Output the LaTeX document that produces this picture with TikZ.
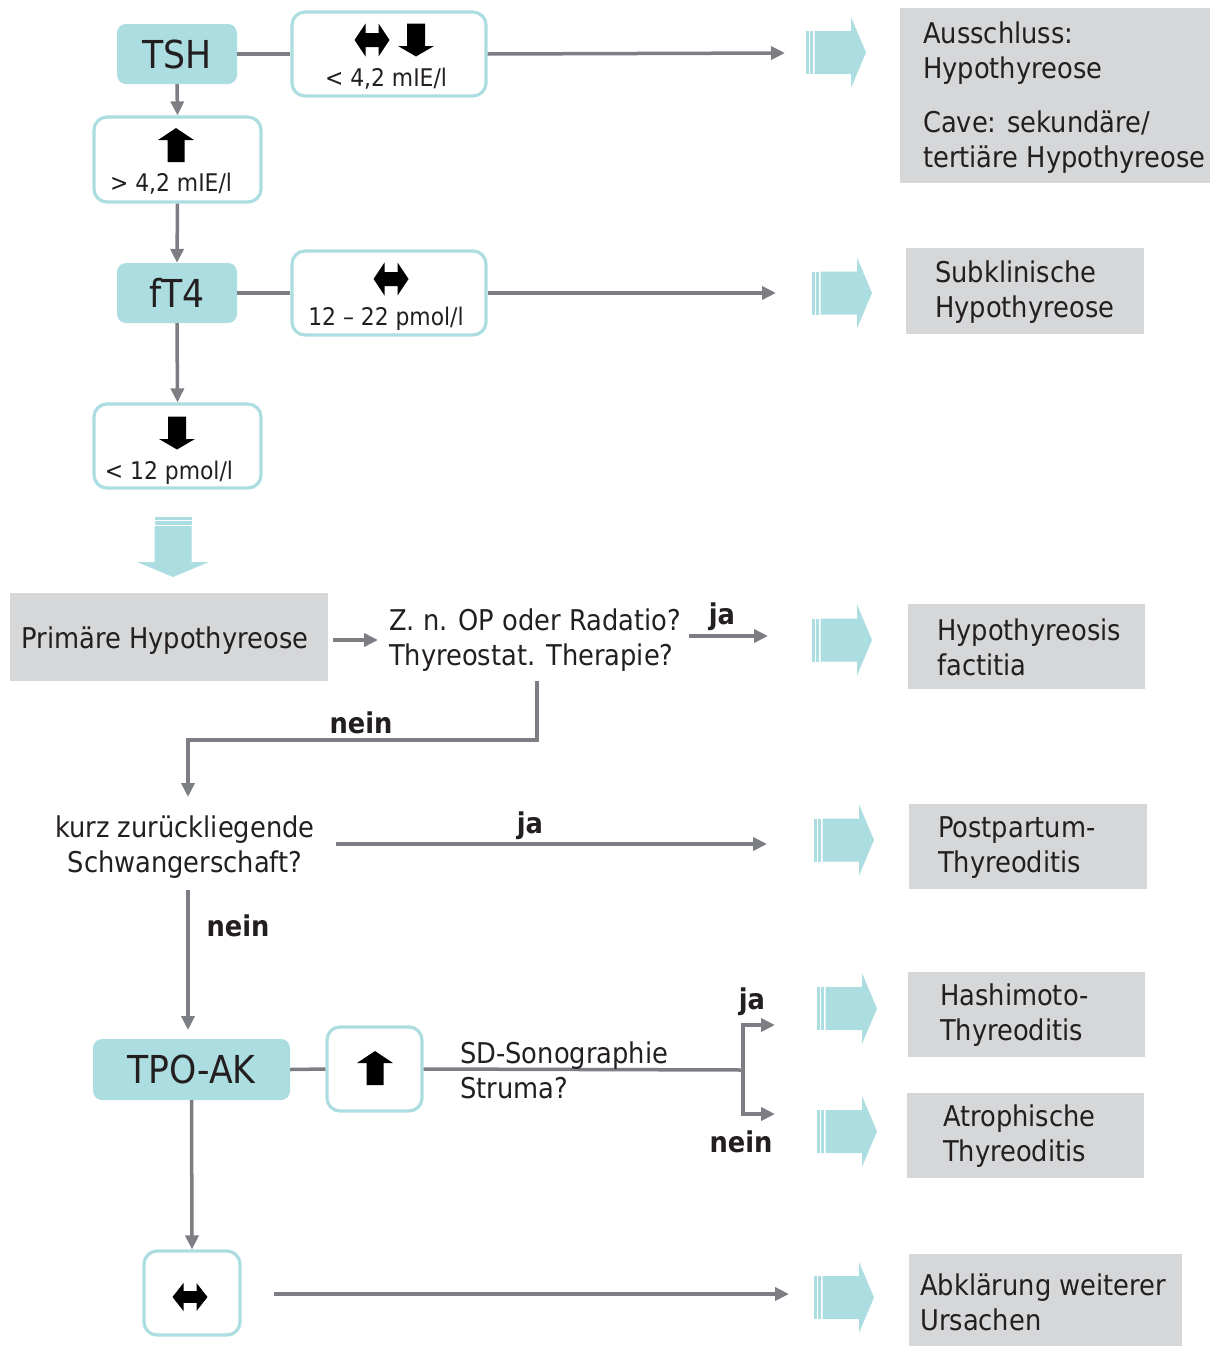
\documentclass[tikz,border=0pt]{standalone}
\usepackage{fontspec}
\setmainfont{DejaVu Sans Condensed}
\usetikzlibrary{arrows.meta}
\definecolor{tealc}{HTML}{ACDDE1}
\definecolor{grayc}{HTML}{D6D7D9}
\definecolor{linec}{HTML}{7D7E83}
\definecolor{txtc}{HTML}{231F20}
\tikzset{
  base/.style={text=txtc, inner sep=0pt},
  hub/.style={base, fill=tealc, rounded corners=9pt, font=\fontsize{38.5}{44}\selectfont},
  valbox/.style={draw=tealc, line width=3.2pt, fill=white, rounded corners=13pt, inner sep=0pt},
  gbox/.style={fill=grayc, inner sep=0pt},
  gtext/.style={base, align=left, anchor=west, yshift=-2.5pt, font=\fontsize{28.6}{35}\selectfont},
  ctext/.style={base, align=center, yshift=-2.5pt, font=\fontsize{28.6}{35}\selectfont},
  small/.style={base, yshift=-1.5pt, font=\fontsize{24.3}{28}\selectfont},
  yesno/.style={base, yshift=-2pt, font=\bfseries\fontsize{28.6}{34}\selectfont},
  conn/.style={draw=linec, line width=3.5pt},
  arr/.style={conn, -{Triangle[length=14pt,width=13pt]}},
  bigarrow/.pic={
    \fill[tealc] (0,-21.5) rectangle (2.5,21.5);
    \fill[tealc] (3.8,-21.5) rectangle (7,21.5);
    \fill[tealc] (8.5,-21.5) -- (45,-21.5) -- (45,-35.5) -- (60,0) -- (45,35.5) -- (45,21.5) -- (8.5,21.5) -- cycle;
  },
  downbig/.pic={
    \fill[tealc] (-18.5,0) rectangle (18.5,2.5);
    \fill[tealc] (-18.5,4) rectangle (18.5,7.5);
    \fill[tealc] (-18.5,9) -- (-18.5,45) -- (-36,45) -- (0,60) -- (36,45) -- (18.5,45) -- (18.5,9) -- cycle;
  },
  uparr/.pic={
    \fill[black] (0,-17) -- (18,-5) -- (8.5,-5) -- (8.5,17) -- (-8.5,17) -- (-8.5,-5) -- (-18,-5) -- cycle;
  },
  downarr/.pic={
    \fill[black] (0,16.5) -- (18,6) -- (9,6) -- (9,-16.5) -- (-9,-16.5) -- (-9,6) -- (-18,6) -- cycle;
  },
  lrarr/.pic={
    \fill[black] (-17.5,0) -- (-6.5,-16.5) -- (-6.5,-7) -- (6.5,-7) -- (6.5,-16.5) -- (17.5,0) -- (6.5,16.5) -- (6.5,7) -- (-6.5,7) -- (-6.5,16.5) -- cycle;
  },
}
\begin{document}
\begin{tikzpicture}[x=1pt,y=-1pt]
\useasboundingbox (0,0) rectangle (1210,1347);

% ---------- TSH row ----------
\node[hub, minimum width=120pt, minimum height=60pt] (tsh) at (177,54) {TSH};
\node[valbox, minimum width=194pt, minimum height=84pt] (b1) at (389,54) {};
\pic at (372,40) {lrarr};
\pic at (416,40) {downarr};
\node[small] (b1t) at (386,77) {< 4,2 mIE/l};
\coordinate (e1) at (785,53);
\draw[conn] (tsh.east) -- (b1.west);
\draw[arr] (b1.east) -- (e1);
\pic at (806,52.5) {bigarrow};
\node[gbox, minimum width=310pt, minimum height=175pt] (g1) at (1055,95.5) {};
\node[gtext] (g1t) at (923,95) {Ausschluss:\\Hypothyreose\\[19pt]Cave: sekundäre/\\tertiäre Hypothyreose};

% ---------- TSH up ----------
\node[valbox, minimum width=167pt, minimum height=85pt] (b2) at (177.5,159.5) {};
\pic at (176,145) {uparr};
\node[small] (b2t) at (171,182) {> 4,2 mIE/l};
\draw[arr] (tsh.south) -- (b2.north);

% ---------- fT4 row ----------
\node[hub, minimum width=120pt, minimum height=60pt] (ft4) at (177,293) {fT4};
\draw[arr] (b2.south) -- (ft4.north);
\node[valbox, minimum width=194pt, minimum height=84pt] (b3) at (389,293) {};
\pic at (391,279) {lrarr};
\node[small] (b3t) at (386,317) {12 – 22 pmol/l};
\coordinate (e3) at (776,293);
\draw[conn] (ft4.east) -- (b3.west);
\draw[arr] (b3.east) -- (e3);
\pic at (812,293) {bigarrow};
\node[gbox, minimum width=238pt, minimum height=86pt] (g2) at (1025,291) {};
\node[gtext] (g2t) at (935,290) {Subklinische\\Hypothyreose};

% ---------- fT4 down ----------
\node[valbox, minimum width=167pt, minimum height=84pt] (b4) at (177.5,446) {};
\pic at (177,433) {downarr};
\node[small] (b4t) at (169,471) {< 12 pmol/l};
\draw[arr] (ft4.south) -- (b4.north);
\pic at (173,517) {downbig};

% ---------- Primaere ----------
\node[gbox, minimum width=318pt, minimum height=88pt] (prim) at (169,637) {};
\node[ctext] (primt) at (165,638) {Primäre Hypothyreose};
\node[gtext] (q1) at (389,638) {Z. n. OP oder Radatio?\\Thyreostat. Therapie?};
\coordinate (p0) at (333,640);
\coordinate (p1) at (378,640);
\draw[arr] (p0) -- (p1);
\coordinate (q1a) at (689,636);
\coordinate (q1b) at (768,636);
\draw[arr] (q1a) -- (q1b);
\node[yesno] (ja1) at (722,615) {ja};
\pic at (812,640) {bigarrow};
\node[gbox, minimum width=237pt, minimum height=85pt] (g3) at (1026.5,646.5) {};
\node[gtext] (g3t) at (937,645) {Hypothyreosis\\factitia};

% ---------- nein -> Schwangerschaft ----------
\coordinate (n1a) at (537,681);
\coordinate (n1b) at (188,740);
\coordinate (n1c) at (188,797);
\draw[arr] (n1a) |- (n1b) -- (n1c);
\node[yesno] (nein1) at (361,721) {nein};
\node[ctext] (q2) at (185,845) {kurz zurückliegende\\Schwangerschaft?};
\coordinate (q2a) at (336,844);
\coordinate (q2b) at (767,844);
\draw[arr] (q2a) -- (q2b);
\node[yesno] (ja2) at (530,824) {ja};
\pic at (814,840) {bigarrow};
\node[gbox, minimum width=238pt, minimum height=85pt] (g4) at (1028,846.5) {};
\node[gtext] (g4t) at (938,845) {Postpartum-\\Thyreoditis};

% ---------- nein -> TPO ----------
\node[hub, minimum width=197pt, minimum height=61pt] (tpo) at (191.5,1069.5) {TPO-AK};
\coordinate (n2a) at (188,890);
\coordinate (n2b) at (188,1030);
\draw[arr] (n2a) -- (n2b);
\node[yesno] (nein2) at (238,924) {nein};

\node[valbox, minimum width=95pt, minimum height=84pt] (b5) at (374.5,1069) {};
\pic at (375,1068) {uparr};
\draw[conn] (tpo.east) -- (b5.west);
\coordinate (br) at (743,1070);
\coordinate (bja) at (775,1025);
\coordinate (bnein) at (775,1114);
\draw[conn] (b5.east) -- (br);
\draw[arr] (br) |- (bja);
\draw[arr] (br) |- (bnein);
\node[gtext] (q3) at (460,1068) {SD-Sonographie\\Struma?};
\node[yesno] (ja3) at (752,1000) {ja};
\node[yesno] (nein3) at (741,1140) {nein};
\pic at (817,1008.5) {bigarrow};
\pic at (817,1131.5) {bigarrow};
\node[gbox, minimum width=237pt, minimum height=85pt] (g5) at (1026.5,1014.5) {};
\node[gtext] (g5t) at (940,1013) {Hashimoto-\\Thyreoditis};
\node[gbox, minimum width=237pt, minimum height=85pt] (g6) at (1025.5,1135.5) {};
\node[gtext] (g6t) at (943,1134) {Atrophische\\Thyreoditis};

% ---------- TPO normal ----------
\node[valbox, minimum width=96pt, minimum height=84pt] (b6) at (192,1293) {};
\pic[yscale=0.85] at (190,1297) {lrarr};
\draw[arr] (tpo.south) -- (b6.north);
\coordinate (l7a) at (274,1294);
\coordinate (l7b) at (789,1294);
\draw[arr] (l7a) -- (l7b);
\pic at (814,1297.5) {bigarrow};
\node[gbox, minimum width=273pt, minimum height=92pt] (g7) at (1045.5,1300) {};
\node[gtext] (g7t) at (920,1300) {Abklärung weiterer\\Ursachen};
\end{tikzpicture}
\end{document}
